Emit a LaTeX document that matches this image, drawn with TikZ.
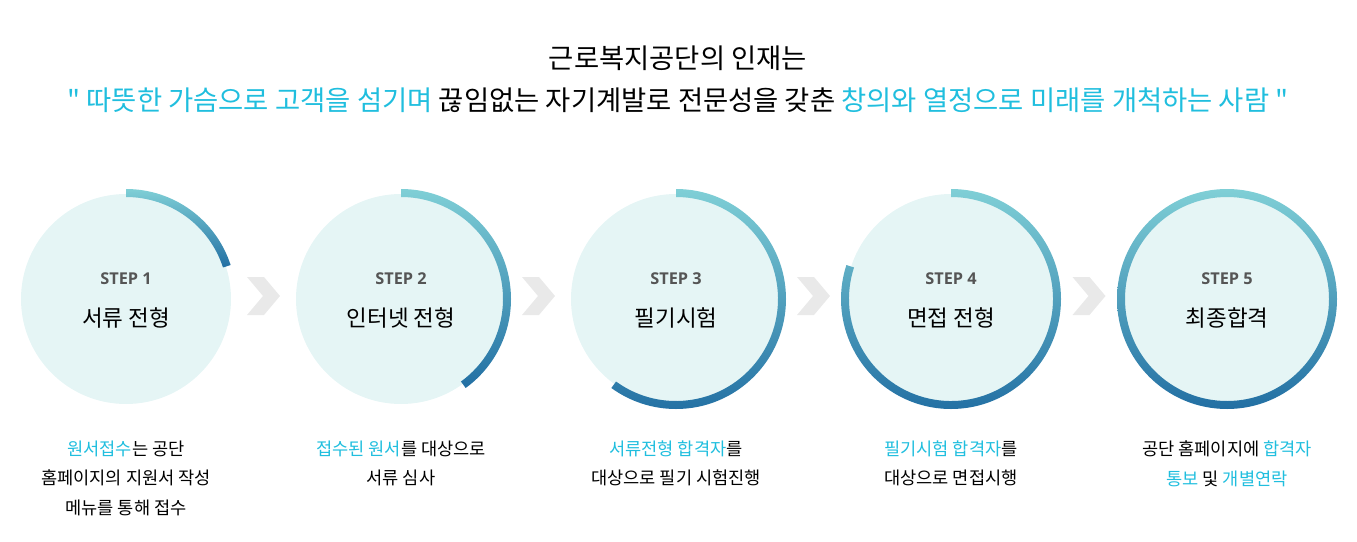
\documentclass[tikz,border=0pt]{standalone}
\usepackage{fontspec}
\setmainfont{Noto Sans CJK KR}
\newfontfamily\stepfont{Open Sans}
\newfontfamily\quotefont{Noto Sans CJK KR}
\usepackage{tikz}
\usetikzlibrary{positioning,calc}

\definecolor{accent}{RGB}{32,190,222}
\definecolor{discfill}{RGB}{229,245,245}
\definecolor{ringlight}{RGB}{127,207,214}
\definecolor{ringdark}{RGB}{34,111,163}
\definecolor{chevgray}{RGB}{233,233,233}
\definecolor{stepgray}{RGB}{85,85,85}

\newcommand{\hl}[1]{\textcolor{accent}{#1}}
\newcommand{\qt}{{\quotefont"}}
% progress ring from the top, clockwise to angle #2
\newcommand{\progress}[2]{%
  \shade[top color=ringlight, bottom color=ringdark]
    ($(#1)+(90:110pt)$) arc[start angle=90, end angle=#2, radius=110pt]
    -- ($(#1)+(#2:102pt)$) arc[start angle=#2, end angle=90, radius=102pt] -- cycle;}
% grey chevron between two steps
\newcommand{\chevron}[2]{%
  \fill[chevgray] ($(#1)!0.5!(#2)+(-16.5,22)$) -- ++(17,0) -- ++(16,-19) -- ++(-16,-19)
    -- ++(-17,0) -- ++(16,19) -- cycle;}

\begin{document}
\begin{tikzpicture}[x=1pt, y=1pt,
    stepdisc/.style={circle, fill=discfill, minimum size=210pt, inner sep=0pt},
    steplbl/.style={font=\stepfont\bfseries\fontsize{16.3}{19}\selectfont, text=stepgray},
    stepname/.style={font=\fontsize{22.5}{26}\selectfont},
    desc/.style={align=center, font=\fontsize{17.6}{29.5}\selectfont, anchor=north}
]
\useasboundingbox (0,0) rectangle (1357,-541);

% heading
\node[font=\fontsize{27.4}{32}\selectfont] (head) at (678,-58) {근로복지공단의 인재는};
\node[font=\fontsize{27.4}{32}\selectfont] (motto) at (678,-100)
  {\hl{\qt{} 따뜻한 가슴으로 고객을 섬기며} 끊임없는 자기계발로 전문성을 갖춘 \hl{창의와 열정으로 미래를 개척하는 사람 \qt}};

% steps
\node[stepdisc] (s1) at (126,-299) {};
\node[stepdisc] (s2) at (401,-299) {};
\node[stepdisc] (s3) at (676,-299) {};
\node[stepdisc] (s4) at (951,-299) {};
\node[stepdisc] (s5) at (1227,-299) {};

\progress{s1}{18}
\progress{s2}{-54}
\progress{s3}{-126}
\progress{s4}{-198}
\shade[top color=ringlight, bottom color=ringdark, even odd rule]
  (s5) circle[radius=110pt] (s5) circle[radius=102pt];

\chevron{s1}{s2}
\chevron{s2}{s3}
\chevron{s3}{s4}
\chevron{s4}{s5}

\node[steplbl] (l1) at ([yshift=20]s1) {STEP 1};
\node[steplbl] (l2) at ([yshift=20]s2) {STEP 2};
\node[steplbl] (l3) at ([yshift=20]s3) {STEP 3};
\node[steplbl] (l4) at ([yshift=20]s4) {STEP 4};
\node[steplbl] (l5) at ([yshift=20]s5) {STEP 5};

\node[stepname] (n1) at ([yshift=-19]s1) {서류 전형};
\node[stepname] (n2) at ([yshift=-19]s2) {인터넷 전형};
\node[stepname] (n3) at ([yshift=-19]s3) {필기시험};
\node[stepname] (n4) at ([yshift=-19]s4) {면접 전형};
\node[stepname] (n5) at ([yshift=-19]s5) {최종합격};

% descriptions
\node[desc, below=33pt of s1] (d1) {\hl{원서접수}는 공단\\홈페이지의 지원서 작성\\메뉴를 통해 접수};
\node[desc, below=33pt of s2] (d2) {\hl{접수된 원서}를 대상으로\\서류 심사};
\node[desc, below=33pt of s3] (d3) {\hl{서류전형 합격자}를\\대상으로 필기 시험진행};
\node[desc, below=33pt of s4] (d4) {\hl{필기시험 합격자}를\\대상으로 면접시행};
\node[desc, below=33pt of s5] (d5) {공단 홈페이지에 \hl{합격자}\\\hl{통보} 및 \hl{개별연락}};
\end{tikzpicture}
\end{document}
